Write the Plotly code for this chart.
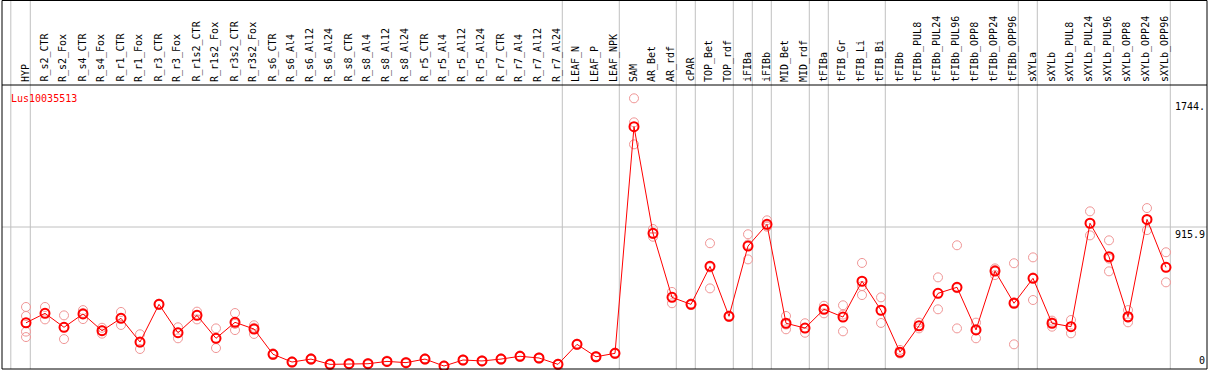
import plotly.graph_objects as go

categories = ["HYP", "R_s2_CTR", "R_s2_Fox", "R_s4_CTR", "R_s4_Fox", "R_r1_CTR", "R_r1_Fox",
              "R_r3_CTR", "R_r3_Fox", "R_r1s2_CTR", "R_r1s2_Fox", "R_r3s2_CTR", "R_r3s2_Fox",
              "R_s6_CTR", "R_s6_Al4", "R_s6_Al12", "R_s6_Al24", "R_s8_CTR", "R_s8_Al4", "R_s8_Al12",
              "R_s8_Al24", "R_r5_CTR", "R_r5_Al4", "R_r5_Al12", "R_r5_Al24", "R_r7_CTR", "R_r7_Al4",
              "R_r7_Al12", "R_r7_Al24", "LEAF_N", "LEAF_P", "LEAF_NPK", "SAM", "AR_Bet", "AR_rdf",
              "cPAR", "TOP_Bet", "TOP_rdf", "iFIBa", "iFIBb", "MID_Bet", "MID_rdf", "tFIBa",
              "tFIB_Gr", "tFIB_Li", "tFIB_Bi", "tFIBb", "tFIBb_PUL8", "tFIBb_PUL24", "tFIBb_PUL96",
              "tFIBb_OPP8", "tFIBb_OPP24", "tFIBb_OPP96", "sXYLa", "sXYLb", "sXYLb_PUL8",
              "sXYLb_PUL24", "sXYLb_PUL96", "sXYLb_OPP8", "sXYLb_OPP24", "sXYLb_OPP96"]

means = [298, 359, 269, 355, 247, 327, 174, 417, 234, 346, 198, 301, 258,
         95, 45, 64, 30, 34, 34, 49, 41, 64, 19, 58, 52, 64, 82, 71, 30, 159, 79, 101,
         1563, 875, 462, 417, 662, 340, 793, 933, 295, 264, 385, 335, 566, 379, 108,
         279, 488, 527, 252, 632, 424, 585, 295, 273, 940, 724, 337, 965, 656]

rep_a = [400, 400, 346, 380, 266, 368, 224, 421, 269, 370, 262, 361, 282,
         101, 50, 70, 35, 38, 39, 54, 46, 69, 23, 62, 57, 69, 87, 75, 34, 163, 84, 106,
         1746, 903, 497, 422, 811, 345, 869, 959, 342, 295, 408, 411, 684, 462, 123,
         299, 591, 798, 299, 649, 682, 720, 312, 316, 1017, 830, 380, 1038, 753]

rep_b = [206, 320, 193, 322, 228, 284, 129, 413, 198, 320, 135, 251, 226,
         90, 41, 59, 26, 30, 30, 45, 37, 60, 15, 54, 48, 60, 78, 67, 26, 155, 75, 97,
         1449, 853, 424, 412, 520, 336, 707, 918, 256, 234, 359, 243, 477, 297, 100,
         262, 385, 262, 198, 606, 159, 445, 273, 230, 862, 630, 301, 896, 559]

rep_c = [241, 359, 269, 362, 250, 329, 170, 417, 235, 348, 197, 291, 266,
         95, 45, 64, 30, 34, 34, 49, 41, 64, 19, 58, 52, 64, 82, 71, 30, 159, 79, 101,
         1591, 870, 465, 417, 655, 340, 803, 925, 287, 263, 388, 351, 535, 379, 110,
         279, 488, 521, 258, 640, 431, 590, 300, 273, 940, 712, 330, 960, 656]

rep_d = [342] + [None] * 60

group_ends = [-1, 0, 28, 31, 34, 35, 37, 38, 39, 41, 42, 45, 52, 53, 60]

gene = "Lus10035513"
y_max = 1831.8
tick_labels = ["1744.", "915.9", "0"]
tick_values = [1744, 915.9, 0]

x = list(range(len(categories)))

W, H = 1209, 370
ml, mr, mt, mb = 2, 2, 85, 1
plot_h = H - mt - mb
plot_w = W - ml - mr
px_per = 19
first_px = 24
x_range = [-first_px / px_per, (plot_w - first_px) / px_per]

FONT = "DejaVu Sans Mono"
REP_COLOR = "rgb(240,150,150)"

fig = go.Figure()

for reps in [rep_a, rep_b, rep_c, rep_d]:
    fig.add_trace(go.Scatter(
        x=x, y=reps, mode="markers",
        marker=dict(symbol="circle-open", size=9, color=REP_COLOR, line=dict(width=1, color=REP_COLOR)),
        hoverinfo="skip", showlegend=False, cliponaxis=False))

fig.add_trace(go.Scatter(
    x=x, y=means, mode="lines+markers",
    line=dict(color="red", width=1),
    marker=dict(symbol="circle-open", size=9, color="red", line=dict(width=2, color="red")),
    showlegend=False, cliponaxis=False))

top_paper = 1 + (mt - 0.5) / plot_h
shapes = []
for g in group_ends:
    xv = g + 0.226 if g >= 0 else -0.8
    shapes.append(dict(type="line", xref="x", yref="paper", x0=xv, x1=xv, y0=0, y1=top_paper,
                       line=dict(color="#c0c0c0", width=1), layer="below"))
shapes.append(dict(type="line", xref="paper", yref="y", x0=0, x1=1, y0=y_max / 2, y1=y_max / 2,
                   line=dict(color="#c0c0c0", width=1), layer="below"))
# outer frame and header separator
shapes.append(dict(type="rect", xref="paper", yref="paper", x0=0, x1=1, y0=0, y1=top_paper,
                   line=dict(color="black", width=1)))
shapes.append(dict(type="line", xref="paper", yref="paper", x0=0, x1=1, y0=1, y1=1,
                   line=dict(color="black", width=1)))

annotations = []
for i, c in enumerate(categories):
    annotations.append(dict(x=i - 0.05, xref="x", y=1, yref="paper", text=c, textangle=-90,
                            showarrow=False, xanchor="center", yanchor="bottom", yshift=1,
                            font=dict(family=FONT, size=10, color="black")))

annotations.append(dict(x=0, xref="paper", y=1, yref="paper", text=gene,
                        showarrow=False, xanchor="left", yanchor="top", yshift=-6, xshift=7,
                        font=dict(family=FONT, size=10, color="red")))

for lbl, v in zip(tick_labels, tick_values):
    annotations.append(dict(x=1, xref="paper", y=v, yref="y", text=lbl, showarrow=False,
                            xanchor="right", yanchor="bottom" if v == 0 else "top",
                            xshift=0, yshift=1 if v == 0 else 0,
                            font=dict(family=FONT, size=10, color="black")))

fig.update_layout(
    width=W, height=H,
    margin=dict(l=ml, r=mr, t=mt, b=mb, pad=0),
    plot_bgcolor="white", paper_bgcolor="white",
    xaxis=dict(range=x_range, showgrid=False, zeroline=False, showticklabels=False, ticks="",
               showline=False, fixedrange=True),
    yaxis=dict(range=[0, y_max], showgrid=False, zeroline=False, showticklabels=False, ticks="",
               showline=False, fixedrange=True),
    shapes=shapes, annotations=annotations,
)

fig.write_html("out.html", config={"displayModeBar": False},
               post_script="document.body.style.margin='0';document.body.style.overflow='hidden';")
